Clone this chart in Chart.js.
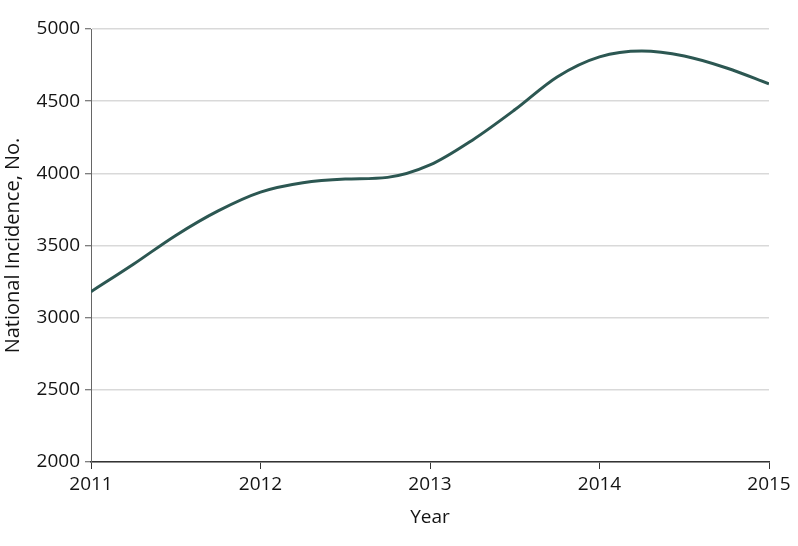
<!DOCTYPE html>
<html>
<head>
<meta charset="utf-8">
<script src="https://cdn.jsdelivr.net/npm/chart.js@4/dist/chart.umd.min.js"></script>
<style>
  html, body { margin: 0; padding: 0; background: #fff; }
  #wrap { width: 798px; height: 546px; }
</style>
</head>
<body>
<div id="wrap"><canvas id="c" width="798" height="546"></canvas></div>
<script>
const years = [2011, 2011.25, 2011.5, 2011.75, 2012, 2012.25, 2012.5, 2012.75, 2013, 2013.25, 2013.5, 2013.75, 2014, 2014.25, 2014.5, 2014.75, 2015];
const incidence = [3180, 3370, 3570, 3740, 3870, 3935, 3960, 3972, 4058, 4230, 4440, 4668, 4807, 4848, 4813, 4730, 4620];
const yTicks = [2000, 2500, 3000, 3500, 4000, 4500, 5000];
const xTicks = [2011, 2012, 2013, 2014, 2015];

const points = years.map((x, i) => ({ x: x, y: incidence[i] }));
const fontFamily = "'Open Sans', 'Noto Sans', sans-serif";

new Chart(document.getElementById('c'), {
  type: 'line',
  data: {
    datasets: [{
      data: points,
      borderColor: '#2c5752',
      borderWidth: 3,
      pointRadius: 0,
      fill: false,
      cubicInterpolationMode: 'monotone'
    }]
  },
  options: {
    responsive: false,
    animation: false,
    layout: { padding: { top: 29, right: 29, left: 0, bottom: 0 } },
    plugins: { legend: { display: false }, tooltip: { enabled: false } },
    scales: {
      x: {
        type: 'linear',
        min: 2011, max: 2015,
        afterBuildTicks: s => { s.ticks = xTicks.map(v => ({ value: v })); },
        afterFit: s => { s.height = 84; },
        ticks: { color: '#141414', font: { family: fontFamily, size: 19 }, padding: 4, maxRotation: 0,
                 callback: v => String(v) },
        grid: { drawOnChartArea: false, drawTicks: true, tickLength: 7, tickColor: '#333', tickWidth: 1 },
        border: { color: '#333', width: 1.5 },
        title: { display: true, text: 'Year', color: '#141414', font: { family: fontFamily, size: 19 }, padding: { top: 4, bottom: 17 } }
      },
      y: {
        min: 2000, max: 5000,
        afterBuildTicks: s => { s.ticks = yTicks.map(v => ({ value: v })); },
        afterFit: s => { s.width = 91; },
        ticks: { color: '#141414', font: { family: fontFamily, size: 19 }, padding: 5,
                 callback: v => String(v) },
        grid: { color: '#d9d9d9', lineWidth: 1.5, drawTicks: true, tickLength: 6, tickColor: '#555', tickWidth: 1 },
        border: { color: '#666', width: 1 },
        title: { display: true, text: 'National Incidence, No.', color: '#141414', font: { family: fontFamily, size: 20 }, padding: { top: 1, bottom: 4 } }
      }
    }
  }
});
</script>
</body>
</html>
